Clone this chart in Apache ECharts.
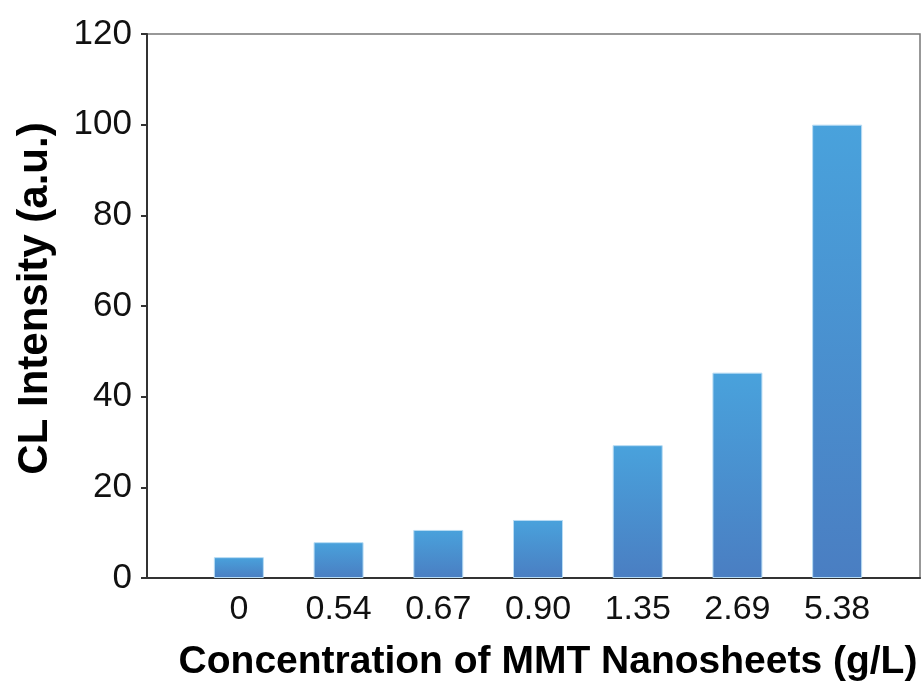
<!DOCTYPE html>
<html>
<head>
<meta charset="utf-8">
<script src="https://cdn.jsdelivr.net/npm/echarts@6/dist/echarts.min.js"></script>
<style>
  html, body { margin: 0; padding: 0; background: #fff; }
  #chart { width: 923px; height: 689px; }
</style>
</head>
<body>
<div id="chart"></div>
<script>
  // data
  var concentrations = ['0', '0.54', '0.67', '0.90', '1.35', '2.69', '5.38'];
  var intensity = [4.6, 7.9, 10.6, 12.8, 29.3, 45.3, 100];
  var yTicks = { min: 0, max: 120, interval: 20 };

  var font = 'Liberation Sans, Arial, sans-serif';

  var chart = echarts.init(document.getElementById('chart'));
  chart.setOption({
    animation: false,
    grid: [
      // bars
      { left: 189, right: 36, top: 34, bottom: 111 },
      // frame box + y axis
      { left: 147, right: 3, top: 34, bottom: 111, show: true,
        borderColor: '#777', borderWidth: 1.5, backgroundColor: 'transparent' }
    ],
    xAxis: [
      {
        gridIndex: 0,
        type: 'category',
        data: concentrations,
        axisLine: { show: false },
        axisTick: { show: false },
        axisLabel: { fontSize: 34, color: '#111', fontFamily: font, margin: 15 },
        name: 'Concentration of MMT Nanosheets (g/L)',
        nameLocation: 'middle',
        nameGap: 65,
        nameTextStyle: { fontSize: 39, fontWeight: 'bold', color: '#000', fontFamily: font, padding: [0, 0, 0, 20] }
      },
      {
        gridIndex: 1,
        type: 'value',
        min: 0, max: 1,
        axisLine: { show: true, lineStyle: { color: '#333', width: 2 } },
        axisTick: { show: false },
        axisLabel: { show: false },
        splitLine: { show: false }
      }
    ],
    yAxis: [
      {
        gridIndex: 0,
        type: 'value',
        min: yTicks.min, max: yTicks.max, interval: yTicks.interval,
        show: false
      },
      {
        gridIndex: 1,
        type: 'value',
        min: yTicks.min, max: yTicks.max, interval: yTicks.interval,
        axisLine: { show: true, lineStyle: { color: '#333', width: 2 } },
        axisTick: { show: true, length: 6, lineStyle: { color: '#333', width: 2 } },
        axisLabel: { fontSize: 35, color: '#111', fontFamily: font, margin: 15 },
        splitLine: { show: false },
        name: 'CL Intensity (a.u.)',
        nameLocation: 'middle',
        nameGap: 91,
        nameTextStyle: { fontSize: 42, fontWeight: 'bold', color: '#000', fontFamily: font, padding: [0, 0, 0, 15] }
      }
    ],
    series: [
      {
        type: 'bar',
        xAxisIndex: 0,
        yAxisIndex: 0,
        data: intensity,
        barWidth: 50,
        itemStyle: {
          color: {
            type: 'linear', x: 0, y: 0, x2: 0, y2: 1,
            colorStops: [
              { offset: 0, color: '#49a2dc' },
              { offset: 1, color: '#4a7ec2' }
            ]
          },
          borderColor: '#b8dcf4',
          borderWidth: 1
        }
      }
    ]
  });
</script>
</body>
</html>
